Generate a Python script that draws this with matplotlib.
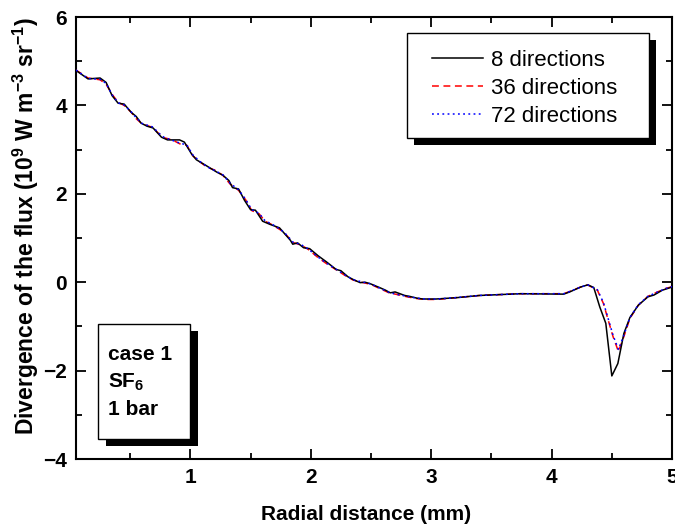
import matplotlib
matplotlib.use("Agg")
import matplotlib.pyplot as plt
from matplotlib.patches import Rectangle
from matplotlib.ticker import MultipleLocator

plt.rcParams['font.family'] = ['Liberation Sans', 'DejaVu Sans']
plt.rcParams['mathtext.fontset'] = 'custom'
plt.rcParams['mathtext.rm'] = 'Liberation Sans:bold'
plt.rcParams['mathtext.bf'] = 'Liberation Sans:bold'
plt.rcParams['mathtext.default'] = 'bf'

# ---- data ----
x8 = [0.05, 0.15, 0.25, 0.30, 0.35, 0.40, 0.45, 0.51, 0.55, 0.59, 0.64, 0.69, 0.76, 0.81,
      0.91, 0.95, 1.01, 1.05, 1.13, 1.22, 1.27, 1.32, 1.35, 1.40, 1.45, 1.50, 1.54, 1.60,
      1.66, 1.74, 1.83, 1.85, 1.89, 1.94, 1.99, 2.06, 2.13, 2.21, 2.25, 2.31, 2.36, 2.41,
      2.45, 2.49, 2.57, 2.62, 2.66, 2.70, 2.74, 2.78, 2.82, 2.88, 2.93, 3.04, 3.21, 3.40,
      3.74, 4.10, 4.15, 4.24, 4.30, 4.35, 4.40, 4.45, 4.50, 4.55, 4.60, 4.65, 4.72, 4.80,
      4.85, 4.92, 5.00]
y8 = [4.79, 4.60, 4.62, 4.52, 4.22, 4.05, 4.03, 3.84, 3.75, 3.60, 3.53, 3.49, 3.28, 3.22,
      3.22, 3.17, 2.90, 2.77, 2.64, 2.49, 2.42, 2.30, 2.14, 2.11, 1.85, 1.64, 1.63, 1.38,
      1.31, 1.23, 0.95, 0.86, 0.89, 0.78, 0.76, 0.60, 0.46, 0.29, 0.26, 0.12, 0.05, -0.01,
      0.00, -0.03, -0.12, -0.18, -0.24, -0.22, -0.26, -0.30, -0.32, -0.36, -0.38, -0.38, -0.35, -0.30,
      -0.26, -0.27, -0.22, -0.11, -0.06, -0.12, -0.56, -0.93, -2.12, -1.84, -1.16, -0.80, -0.52, -0.33,
      -0.29, -0.18, -0.11]

x36 = [0.05, 0.15, 0.25, 0.30, 0.35, 0.40, 0.45, 0.51, 0.55, 0.60, 0.69, 0.73, 0.78, 0.85,
       0.92, 0.97, 1.02, 1.08, 1.14, 1.20, 1.27, 1.33, 1.40, 1.46, 1.51, 1.57, 1.62, 1.68,
       1.75, 1.80, 1.85, 1.92, 1.98, 2.05, 2.12, 2.20, 2.28, 2.35, 2.42, 2.50, 2.57, 2.65,
       2.72, 2.80, 2.88, 2.95, 3.05, 3.20, 3.40, 3.74, 4.10, 4.15, 4.24, 4.30, 4.38, 4.43,
       4.48, 4.51, 4.555, 4.60, 4.65, 4.72, 4.80, 4.88, 4.95, 5.00]
y36 = [4.80, 4.62, 4.58, 4.48, 4.25, 4.07, 4.00, 3.84, 3.70, 3.58, 3.50, 3.38, 3.27, 3.22,
       3.12, 3.10, 2.86, 2.72, 2.60, 2.54, 2.42, 2.22, 2.08, 1.86, 1.62, 1.55, 1.38, 1.30,
       1.18, 1.06, 0.90, 0.84, 0.74, 0.58, 0.44, 0.30, 0.16, 0.05, 0.00, -0.05, -0.14, -0.24,
       -0.28, -0.33, -0.37, -0.39, -0.39, -0.35, -0.30, -0.26, -0.26, -0.21, -0.11, -0.06, -0.18, -0.48,
       -0.95, -1.23, -1.57, -1.23, -0.82, -0.52, -0.32, -0.22, -0.14, -0.10]

x72 = [0.05, 0.15, 0.25, 0.30, 0.35, 0.40, 0.45, 0.51, 0.55, 0.60, 0.69, 0.73, 0.78, 0.85,
       0.92, 0.97, 1.02, 1.08, 1.14, 1.20, 1.27, 1.33, 1.40, 1.46, 1.51, 1.57, 1.62, 1.68,
       1.75, 1.80, 1.85, 1.92, 1.98, 2.05, 2.12, 2.20, 2.28, 2.35, 2.42, 2.50, 2.57, 2.65,
       2.72, 2.80, 2.88, 2.95, 3.05, 3.20, 3.40, 3.74, 4.10, 4.15, 4.24, 4.30, 4.38, 4.43,
       4.48, 4.51, 4.555, 4.60, 4.65, 4.72, 4.80, 4.88, 4.95, 5.00]
y72 = [4.80, 4.61, 4.59, 4.50, 4.24, 4.06, 4.01, 3.85, 3.72, 3.59, 3.51, 3.39, 3.28, 3.21,
       3.14, 3.11, 2.88, 2.73, 2.61, 2.53, 2.43, 2.24, 2.09, 1.87, 1.64, 1.56, 1.39, 1.31,
       1.19, 1.07, 0.91, 0.85, 0.75, 0.59, 0.45, 0.31, 0.17, 0.06, 0.01, -0.04, -0.13, -0.23,
       -0.28, -0.32, -0.36, -0.38, -0.38, -0.35, -0.30, -0.26, -0.26, -0.21, -0.11, -0.06, -0.17, -0.46,
       -0.92, -1.20, -1.52, -1.20, -0.80, -0.51, -0.32, -0.22, -0.14, -0.10]

labels = ["8 directions", "36 directions", "72 directions"]
xticks = [1, 2, 3, 4, 5]
yticks = [-4, -2, 0, 2, 4, 6]
box_lines = ["case 1", r"SF$_{6}$", "1 bar"]

# ---- figure ----
fig = plt.figure(figsize=(6.75, 5.32), dpi=100)
ax = fig.add_axes([0.1126, 0.1372, 0.8830, 0.8308])

ax.plot(x8, y8, color='black', lw=1.1, label=labels[0], zorder=5)
ax.plot(x36, y36, color='#ff0000', lw=1.1, dashes=(4.5, 3), label=labels[1], zorder=4)
ax.plot(x72, y72, color='#0000ff', lw=1.1, dashes=(1.2, 2.2), label=labels[2], zorder=6)

ax.set_xlim(0.05, 5.0)
ax.set_ylim(-4, 6)
ax.set_xticks(xticks)
ax.set_yticks(yticks)
ax.xaxis.set_minor_locator(MultipleLocator(0.5))
ax.yaxis.set_minor_locator(MultipleLocator(1))
ax.tick_params(which='both', direction='in', top=True, right=True, width=1.3, labelsize=15)
ax.tick_params(which='major', length=7, pad=6.5)
ax.tick_params(which='minor', length=4)
for lab in ax.get_xticklabels() + ax.get_yticklabels():
    lab.set_fontweight('bold')
for s in ax.spines.values():
    s.set_linewidth(1.5)

ax.set_xlabel("Radial distance (mm)", fontsize=15, fontweight='bold')
ax.xaxis.set_label_coords(0.487, -0.125, transform=ax.transAxes)
ax.xaxis.label.set_va('center')
ax.set_ylabel(r"Divergence of the flux (10$^{9}$ W m$^{-3}$ sr$^{-1}$)",
              fontsize=16.5, fontweight='bold')
ax.yaxis.set_label_coords(-0.059, 0.527, transform=ax.transAxes)

# legend frame + shadow (axes fraction)
lx0, ly0, lw_, lh_ = 0.555, 0.726, 0.406, 0.238
ax.add_patch(Rectangle((lx0 + 0.0117, ly0 - 0.0158), lw_, lh_, transform=ax.transAxes,
                       facecolor='black', edgecolor='none', zorder=18))
ax.add_patch(Rectangle((lx0, ly0), lw_, lh_, transform=ax.transAxes,
                       facecolor='white', edgecolor='black', lw=1.0, zorder=19))
leg = ax.legend(loc='upper left', bbox_to_anchor=(0.597, 0.925), borderaxespad=0,
                borderpad=0, fontsize=16, frameon=False, handlelength=2.3,
                handletextpad=0.35, labelspacing=0.30)
leg.set_zorder(20)

# text box with shadow (axes fraction)
bx0, by0, bw, bh = 0.037, 0.045, 0.154, 0.260
ax.add_patch(Rectangle((bx0 + 0.0134, by0 - 0.0158), bw, bh, transform=ax.transAxes,
                       facecolor='black', edgecolor='none', zorder=18))
ax.add_patch(Rectangle((bx0, by0), bw, bh, transform=ax.transAxes,
                       facecolor='white', edgecolor='black', lw=1.0, zorder=19))
for txt, yb in zip(box_lines, [0.224, 0.161, 0.100]):
    ax.text(0.054, yb, txt, transform=ax.transAxes, fontsize=15,
            fontweight='bold', zorder=21, va='baseline')

fig.savefig("out.png", dpi=100)
